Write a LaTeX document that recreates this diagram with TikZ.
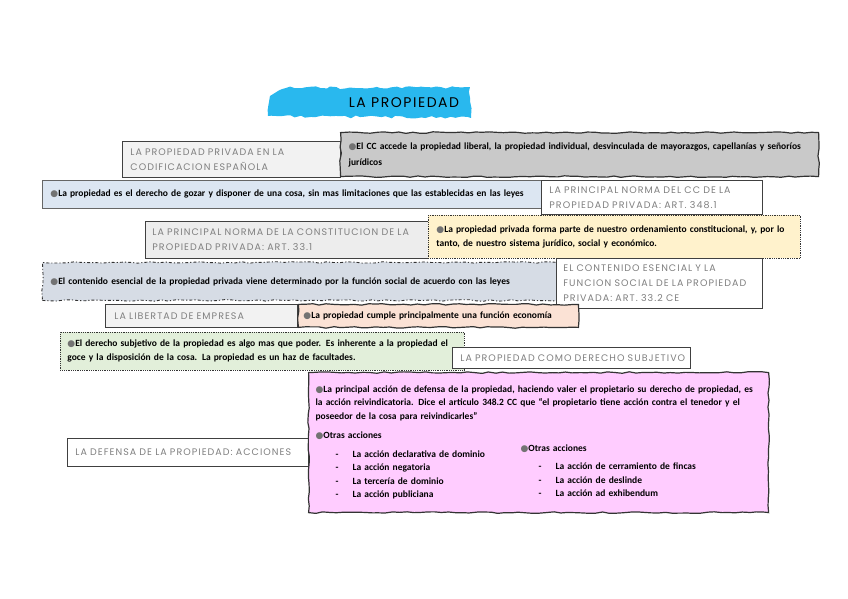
\documentclass[tikz,border=0pt]{standalone}
\usepackage{fontspec}
\setmainfont{Carlito}
\newfontfamily\hand{Poppins}[LetterSpace=11.0]
\newfontfamily\symb{DejaVu Sans}
\usetikzlibrary{positioning,decorations.pathmorphing}

\definecolor{brush}{HTML}{29B8EE}
\definecolor{grisbox}{HTML}{C9C9C9}
\definecolor{azulbox}{HTML}{DCE6F2}
\definecolor{amarbox}{HTML}{FFF2CC}
\definecolor{pizbox}{HTML}{D6DCE5}
\definecolor{melbox}{HTML}{FBE2D5}
\definecolor{verbox}{HTML}{E2EFDA}
\definecolor{rosbox}{HTML}{FFCCFF}

\newcommand\ico{{\symb\fontsize{9}{9}\selectfont\textcolor{black!55}{●}}}
\newcommand\guion{\hspace*{20pt}-\hspace{14pt}}

\tikzset{
  lbl/.style={draw=black!75, line width=0.8pt, fill=#1, anchor=north west, align=left,
    inner xsep=8pt, inner ysep=0pt, text=black!50, font=\hand\fontsize{9.5}{15}\selectfont},
  note/.style={draw=black!80, line width=0.8pt, fill=#1, anchor=north west, align=left,
    inner xsep=8pt, inner ysep=0pt, font=\bfseries\fontsize{9.5}{14}\selectfont},
  wavy/.style={decorate, line width=1.2pt, decoration={random steps, segment length=7pt, amplitude=0.8pt}},
}

\begin{document}
\begin{tikzpicture}[x=1pt, y=-1pt]
\useasboundingbox (0,0) rectangle (848,599);

% titulo
\fill[brush, decorate, decoration={random steps, segment length=5pt, amplitude=1.5pt}]
  (286,88) -- (470,87) -- (471,118) -- (268,116) -- (270,96) -- cycle;
\node[font=\hand\fontsize{14}{14}\selectfont] (tit) at (404,103) {LA PROPIEDAD};

% codificacion
\node[lbl=black!5, minimum width=218pt, minimum height=36pt, text width=202pt] (codif) at (122,141)
  {LA PROPIEDAD PRIVADA EN LA\\CODIFICACION ESPAÑOLA};
\node[note=grisbox, wavy, minimum width=478pt, minimum height=44pt, text width=462pt,
  font=\bfseries\fontsize{9.5}{16}\selectfont] (cc) at (340,132)
  {\ico El CC accede la propiedad liberal, la propiedad individual, desvinculada de mayorazgos, capellanías y señoríos\\jurídicos};

% articulo 348
\node[note=azulbox, draw=black!60, minimum width=503pt, minimum height=28pt, text width=487pt] (defin) at (42,180)
  {\ico La propiedad es el derecho de gozar y disponer de una cosa, sin mas limitaciones que las establecidas en las leyes};
\node[lbl=white, minimum width=221pt, minimum height=34pt, text width=205pt] (art348) at (541,180)
  {LA PRINCIPAL NORMA DEL CC DE LA\\PROPIEDAD PRIVADA: ART. 348.1};

% articulo 33.1
\node[lbl=black!7, minimum width=283pt, minimum height=37pt, text width=269pt, inner xsep=7pt] (art331) at (145,221)
  {LA PRINCIPAL NORMA DE LA CONSTITUCION DE LA\\PROPIEDAD PRIVADA: ART. 33.1};
\node[note=amarbox, densely dotted, minimum width=372pt, minimum height=43pt, text width=356pt] (ordena) at (428,215)
  {\ico La propiedad privada forma parte de nuestro ordenamiento constitucional, y, por lo\\tanto, de nuestro sistema jurídico, social y económico.};

% articulo 33.2
\node[note=pizbox, wavy, dash dot, line width=0.9pt, minimum width=515pt, minimum height=38pt, text width=499pt] (esencial) at (42,262)
  {\ico El contenido esencial de la propiedad privada viene determinado por la función social de acuerdo con las leyes};
\node[lbl=white, minimum width=206pt, minimum height=50pt, text width=192pt, inner xsep=7pt] (art332) at (556,258)
  {EL CONTENIDO ESENCIAL Y LA\\FUNCION SOCIAL DE LA PROPIEDAD\\PRIVADA: ART. 33.2 CE};

% empresa
\node[lbl=black!5, minimum width=192pt, minimum height=23pt, text width=174pt, inner xsep=9pt] (empresa) at (105,304)
  {LA LIBERTAD DE EMPRESA};
\node[note=melbox, wavy, minimum width=280pt, minimum height=23pt, text width=270pt, inner xsep=5pt,
  right=0pt of empresa] (economia)
  {\ico La propiedad cumple principalmente una función economía};

% derecho subjetivo
\node[note=verbox, densely dotted, minimum width=404pt, minimum height=38pt, text width=390pt, inner xsep=7pt] (subjet) at (60,332)
  {\ico El derecho subjetivo de la propiedad es algo mas que poder. Es inherente a la propiedad el\\goce y la disposición de la cosa. La propiedad es un haz de facultades.};
\node[lbl=white, minimum width=238pt, minimum height=21pt, text width=228pt, inner xsep=5pt] (dersubj) at (452,347)
  {\hspace*{3pt}LA PROPIEDAD COMO DERECHO SUBJETIVO};

% defensa
\node[lbl=white, minimum width=241pt, minimum height=28pt, text width=225pt] (acciones) at (67,438)
  {LA DEFENSA DE LA PROPIEDAD: ACCIONES};
\node[note=rosbox, wavy, minimum width=460pt, minimum height=140pt, text width=446pt, inner xsep=7pt,
  font=\bfseries\fontsize{9.5}{13.5}\selectfont] (reivin) at (308,372)
  {\ico La principal acción de defensa de la propiedad, haciendo valer el propietario su derecho de propiedad, es\\
   la acción reivindicatoria. Dice el articulo 348.2 CC que “el propietario tiene acción contra el tenedor y el\\
   poseedor de la cosa para reivindicarles”\\[6pt]
   \parbox[t]{205pt}{\ico Otras acciones\\[5pt]
     \guion La acción declarativa de dominio\\
     \guion La acción negatoria\\
     \guion La tercería de dominio\\
     \guion La acción publiciana}%
   \parbox[t]{240pt}{\strut\\[-1pt]\ico Otras acciones\\[5pt]
     \hspace*{-2pt}\guion La acción de cerramiento de fincas\\
     \hspace*{-2pt}\guion La acción de deslinde\\
     \hspace*{-2pt}\guion La acción ad exhibendum}};
\end{tikzpicture}
\end{document}
